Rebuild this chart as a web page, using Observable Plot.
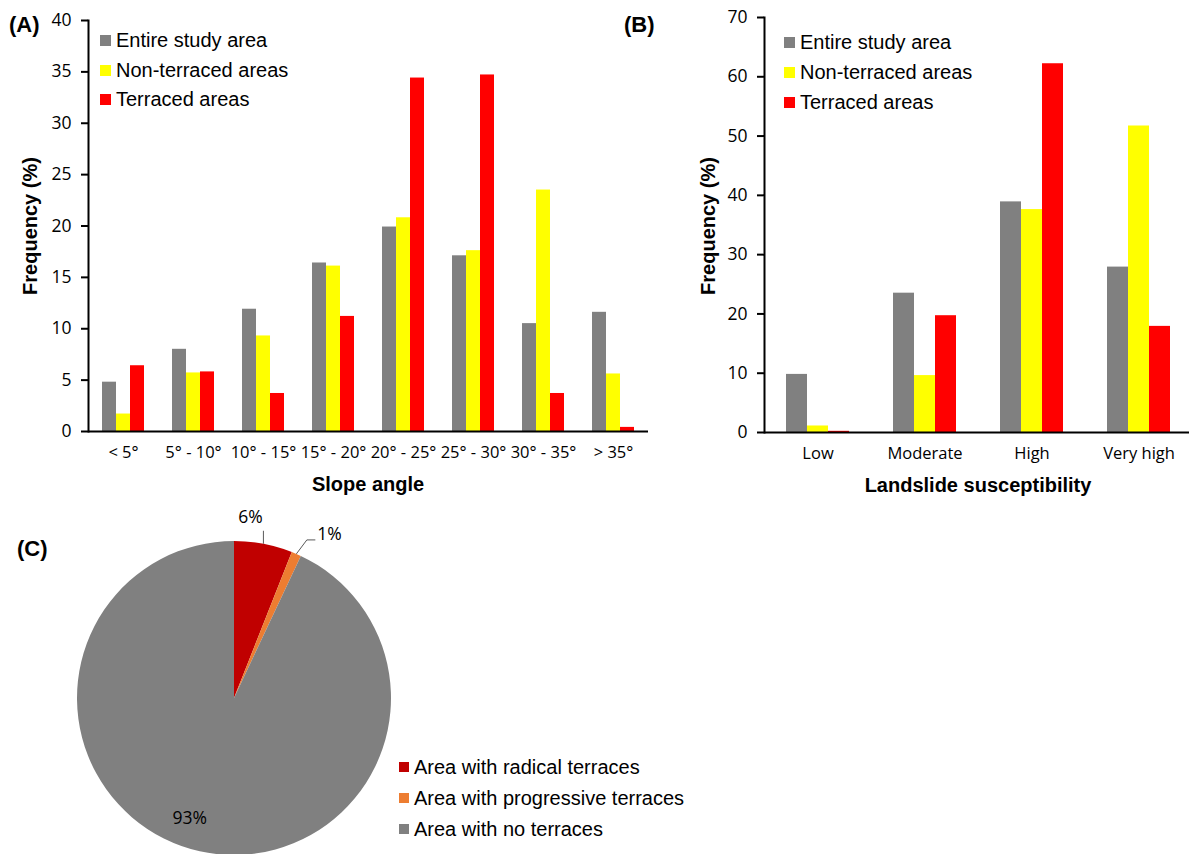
<!DOCTYPE html>
<html>
<head>
<meta charset="utf-8">
<script src="https://cdn.jsdelivr.net/npm/d3@7"></script>
<script src="https://cdn.jsdelivr.net/npm/@observablehq/plot@0.6"></script>
<style>
  html, body { margin: 0; padding: 0; background: #fff; overflow: hidden; }
  #fig { position: relative; width: 1189px; height: 854px; overflow: hidden;
         font-family: "Liberation Sans", Arial, sans-serif; color: #000; }
  .abs { position: absolute; }
  .panel { font-weight: bold; font-size: 22px; line-height: 1; transform: translate(0, -50%); }
  .title { font-weight: bold; font-size: 20px; line-height: 1; white-space: nowrap; transform: translate(-50%, -50%); }
  .vtitle { transform: translate(-50%, -50%) rotate(-90deg); }
  .legend { font-size: 20px; line-height: 1; }
  .legend .row { position: absolute; left: 0; display: flex; align-items: center; white-space: nowrap; transform: translate(0, -50%); }
  .legend .sw { display: inline-block; width: 11px; height: 11px; margin-right: 5px; }
  #legC .sw { width: 10px; height: 10px; }
  svg g[aria-label="y-axis tick"] { stroke-width: 2px; }
  svg g[aria-label^="fx-axis"] { font-size: 16.5px; }
</style>
</head>
<body>
<div id="fig"></div>
<script>
// Series shared by the two bar charts
const seriesNames = ["Entire study area", "Non-terraced areas", "Terraced areas"];
const seriesColors = ["#808080", "#ffff00", "#ff0000"];

// (A) frequency (%) by slope angle class
const slopeClasses = ["< 5°", "5° - 10°", "10° - 15°", "15° - 20°", "20° - 25°", "25° - 30°", "30° - 35°", "> 35°"];
const slopeEntire = [4.8, 8.0, 11.9, 16.4, 19.9, 17.1, 10.5, 11.6];
const slopeNonTerraced = [1.7, 5.7, 9.3, 16.1, 20.8, 17.6, 23.5, 5.6];
const slopeTerraced = [6.4, 5.8, 3.7, 11.2, 34.4, 34.7, 3.7, 0.4];
const slopeTicks = [0, 5, 10, 15, 20, 25, 30, 35, 40];

// (B) frequency (%) by landslide susceptibility class
const suscClasses = ["Low", "Moderate", "High", "Very high"];
const suscEntire = [9.8, 23.5, 38.9, 27.9];
const suscNonTerraced = [1.1, 9.6, 37.6, 51.7];
const suscTerraced = [0.2, 19.7, 62.2, 17.9];
const suscTicks = [0, 10, 20, 30, 40, 50, 60, 70];

// (C) share of the study area by terrace type
const terraceTypes = ["Area with radical terraces", "Area with progressive terraces", "Area with no terraces"];
const terraceShares = [6, 1, 93];
const terraceColors = ["#c00000", "#ed7d31", "#808080"];

const fig = document.getElementById("fig");

function place(el, left, top) {
  el.classList.add("abs");
  el.style.left = left + "px";
  el.style.top = top + "px";
  fig.appendChild(el);
  return el;
}

function textDiv(cls, text) {
  const d = document.createElement("div");
  d.className = cls;
  d.textContent = text;
  return d;
}

function legend(id, names, colors, rowTops) {
  const box = document.createElement("div");
  box.className = "legend";
  box.id = id;
  names.forEach((n, i) => {
    const row = document.createElement("div");
    row.className = "row";
    row.style.top = rowTops[i] + "px";
    const sw = document.createElement("span");
    sw.className = "sw";
    sw.style.background = colors[i];
    row.appendChild(sw);
    row.appendChild(document.createTextNode(n));
    box.appendChild(row);
  });
  return box;
}

// Grouped bar chart: one facet per class, one bar per series inside it
function groupedBars({classes, columns, ticks, width, height, margins}) {
  const rows = classes.flatMap((c, i) =>
    seriesNames.map((s, j) => ({cat: c, series: s, value: columns[j][i]})));
  return Plot.plot({
    width, height, ...margins,
    style: {fontFamily: '"Open Sans", sans-serif', fontSize: "17.5px", color: "#000", background: "transparent", overflow: "visible"},
    fx: {domain: classes, paddingInner: 0, paddingOuter: 0, tickSize: 0, tickPadding: 15, label: null},
    x: {domain: seriesNames, paddingInner: 0, paddingOuter: 1, axis: null},
    y: {domain: [ticks[0], ticks[ticks.length - 1]], ticks, tickSize: 7, tickPadding: 10, label: null},
    color: {domain: seriesNames, range: seriesColors},
    marks: [
      Plot.barY(rows, {fx: "cat", x: "series", y: "value", fill: "series"}),
      Plot.ruleY([0], {stroke: "#000", strokeWidth: 2}),
      Plot.frame({anchor: "left", facet: "super", stroke: "#000", strokeWidth: 2})
    ]
  });
}

// (A)
const chartA = groupedBars({
  classes: slopeClasses,
  columns: [slopeEntire, slopeNonTerraced, slopeTerraced],
  ticks: slopeTicks,
  width: 660, height: 500,
  margins: {marginLeft: 86, marginRight: 11, marginTop: 20, marginBottom: 69}
});
place(chartA, 0, 0);

// (B)
const chartB = groupedBars({
  classes: suscClasses,
  columns: [suscEntire, suscNonTerraced, suscTerraced],
  ticks: suscTicks,
  width: 533, height: 500,
  margins: {marginLeft: 103, marginRight: 0, marginTop: 17, marginBottom: 68}
});
place(chartB, 660, 0);

// (C) pie chart drawn by a render-function mark
const pieW = 400, pieH = 334, pieCx = 234, pieCy = 178, pieR = 157;
const pieRows = terraceTypes.map((t, i) => ({type: t, share: terraceShares[i], color: terraceColors[i]}));
// label placement per slice: leader (if any) and text offset from the slice's mid-arc point
const pieLabelStyle = [
  {leader: [[0, 0], [0, -13]], text: [-13, -25], anchor: "middle"},
  {leader: [[0, 0], [10.5, -14], [19, -14]], text: [21, -19], anchor: "start"},
  {leader: null, text: [-10, -32], anchor: "middle"}
];

function pieMark() {
  const g = d3.create("svg:g").attr("transform", `translate(${pieCx},${pieCy})`);
  const arcs = d3.pie().sort(null).value(d => d.share)(pieRows);
  const arc = d3.arc().innerRadius(0).outerRadius(pieR);
  g.selectAll("path.slice").data(arcs).join("path")
    .attr("class", "slice")
    .attr("d", arc)
    .attr("fill", d => d.data.color);
  arcs.forEach((a, i) => {
    const mid = (a.startAngle + a.endAngle) / 2;
    const px = pieR * Math.sin(mid), py = -pieR * Math.cos(mid);
    const st = pieLabelStyle[i];
    if (st.leader) {
      g.append("path")
        .attr("d", d3.line()(st.leader.map(([dx, dy]) => [px + dx, py + dy])))
        .attr("fill", "none").attr("stroke", "#595959").attr("stroke-width", 1);
    }
    g.append("text")
      .attr("x", px + st.text[0]).attr("y", py + st.text[1])
      .attr("text-anchor", st.anchor)
      .attr("dominant-baseline", "middle")
      .attr("font-family", '"Open Sans", sans-serif')
      .attr("font-size", 17.5)
      .attr("fill", "#000")
      .text(a.data.share + "%");
  });
  return g.node();
}

const chartC = Plot.plot({
  width: pieW, height: pieH, margin: 0,
  style: {background: "transparent", overflow: "visible"},
  marks: [pieMark]
});
place(chartC, 0, 520);

// Panel letters, axis titles and legends
place(textDiv("panel", "(A)"), 9, 25);
place(textDiv("panel", "(B)"), 624, 25);
place(textDiv("panel", "(C)"), 17, 549);

place(textDiv("title vtitle", "Frequency (%)"), 30, 226);
place(textDiv("title", "Slope angle"), 368, 484);
place(textDiv("title vtitle", "Frequency (%)"), 708, 226);
place(textDiv("title", "Landslide susceptibility"), 978, 485);

place(legend("legA", seriesNames, seriesColors, [40, 70, 99]), 100, 0);
place(legend("legB", seriesNames, seriesColors, [42, 72, 102]), 784, 0);
place(legend("legC", terraceTypes, terraceColors, [767, 798, 829]), 399, 0);
</script>
</body>
</html>
